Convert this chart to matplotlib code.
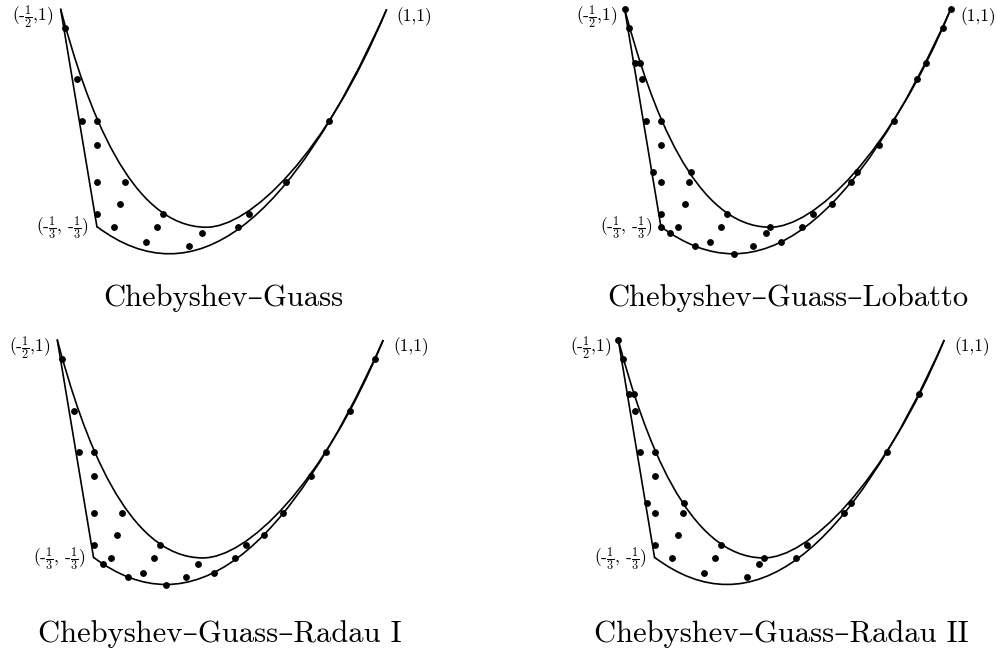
import matplotlib
matplotlib.use("Agg")
import matplotlib.pyplot as plt
from matplotlib.path import Path
from matplotlib.patches import PathPatch

plt.rcParams['mathtext.fontset'] = 'cm'
plt.rcParams['font.family'] = ['cmr10', 'DejaVu Serif']

# curved triangle: straight left side, two curved sides (bezier control points)
left_edge_x = [-0.5, -1/3]
left_edge_y = [1.0, -1/3]
lower_edge_x = [-1/3, 1/3, 1.0]
lower_edge_y = [-1/3, -1.0, 1.0]
upper_edge_x = [-0.5, -0.38, -0.18, 0.17, 0.37, 0.72, 1.0]
upper_edge_y = [1.0, 0.4, -0.337, -0.337, -0.337, 0.1, 1.0]

# quadrature nodes
gauss_x = [-0.479, -0.424, -0.402, -0.333, -0.333, -0.333, -0.204, -0.226, -0.333, -0.031,
           -0.255, -0.057, -0.108, 0.090, 0.148, 0.315, 0.365, 0.537, 0.736]
gauss_y = [0.883, 0.571, 0.315, 0.315, 0.167, -0.058, -0.058, -0.196, -0.258, -0.258,
           -0.334, -0.334, -0.429, -0.453, -0.372, -0.334, -0.258, -0.058, 0.315]

lobatto_x = [-0.5, -0.479, -0.454, -0.428, -0.419, -0.401, -0.333, -0.333, -0.368, -0.196,
             -0.333, -0.204, -0.222, -0.333, -0.031, -0.333, -0.253, -0.292, -0.055, -0.175,
             -0.107, 0.002, 0.090, 0.168, 0.149, 0.221, 0.316, 0.365, 0.453, 0.540,
             0.570, 0.670, 0.738, 0.847, 0.885, 0.963, 1.0]
lobatto_y = [1.0, 0.883, 0.669, 0.669, 0.571, 0.315, 0.315, 0.167, 0.0, 0.0,
             -0.058, -0.058, -0.194, -0.258, -0.258, -0.334, -0.334, -0.371, -0.334, -0.452,
             -0.428, -0.501, -0.452, -0.334, -0.371, -0.428, -0.334, -0.258, -0.194, -0.058,
             0.0, 0.167, 0.315, 0.571, 0.669, 0.883, 1.0]

radau1_x = [-0.480, -0.422, -0.402, -0.333, -0.333, -0.333, -0.204, -0.224, -0.333, -0.029,
            -0.254, -0.056, -0.291, -0.107, -0.176, 0.0, 0.091, 0.149, 0.220, 0.316,
            0.367, 0.451, 0.540, 0.669, 0.737, 0.847, 0.962]
radau1_y = [0.882, 0.566, 0.311, 0.311, 0.164, -0.060, -0.060, -0.198, -0.258, -0.258,
            -0.336, -0.336, -0.374, -0.431, -0.456, -0.505, -0.456, -0.374, -0.431, -0.336,
            -0.258, -0.198, -0.060, 0.164, 0.311, 0.566, 0.882]

radau2_x = [-0.5, -0.477, -0.452, -0.426, -0.422, -0.402, -0.333, -0.333, -0.369, -0.196,
            -0.333, -0.204, -0.224, -0.333, -0.029, -0.254, -0.056, -0.107, 0.169, 0.149,
            0.091, 0.318, 0.367, 0.540, 0.569, 0.737, 0.885]
radau2_y = [1.0, 0.882, 0.667, 0.667, 0.566, 0.311, 0.311, 0.164, 0.0, 0.0,
            -0.060, -0.060, -0.198, -0.258, -0.258, -0.336, -0.336, -0.431, -0.336, -0.374,
            -0.456, -0.336, -0.258, -0.060, 0.0, 0.311, 0.667]

titles = ["Chebyshev\u2013Guass", "Chebyshev\u2013Guass\u2013Lobatto",
          "Chebyshev\u2013Guass\u2013Radau I", "Chebyshev\u2013Guass\u2013Radau II"]
nodes = [(gauss_x, gauss_y), (lobatto_x, lobatto_y), (radau1_x, radau1_y), (radau2_x, radau2_y)]

W, H = 997, 650
# pixel position of vertex (-1/2,1) for each panel, and title baseline
corner_px = [(60.7, 9.3), (624.7, 9.3), (57.3, 340.0), (618.3, 340.0)]
title_base = [306, 306, 642, 642]
sx, sy = 217.3, 163.0  # pixels per data unit

fig = plt.figure(figsize=(W / 100, H / 100), dpi=100)

for i in range(4):
    px, py = corner_px[i]
    ax = fig.add_axes([px / W, 1 - (py + 1.5 * sy) / H, 1.5 * sx / W, 1.5 * sy / H])
    ax.set_xlim(-0.5, 1.0)
    ax.set_ylim(-0.5, 1.0)
    ax.axis('off')

    up = Path(list(zip(upper_edge_x, upper_edge_y)), [Path.MOVETO] + [Path.CURVE4] * 6)
    lo = Path(list(zip(lower_edge_x, lower_edge_y)), [Path.MOVETO, Path.CURVE3, Path.CURVE3])
    ax.add_patch(PathPatch(up, fill=False, lw=1.2, ec='black', clip_on=False))
    ax.add_patch(PathPatch(lo, fill=False, lw=1.2, ec='black', clip_on=False))
    ax.plot(left_edge_x, left_edge_y, color='black', lw=1.2, clip_on=False)

    xs, ys = nodes[i]
    ax.plot(xs, ys, 'o', color='black', ms=3.9, clip_on=False)

    ax.annotate(r'(-$\frac{1}{2}$,1)', (-0.5, 1.0), xytext=(-7, -8), textcoords='offset pixels',
                ha='right', va='center', fontsize=12.5)
    ax.annotate('(1,1)', (1.0, 1.0), xytext=(10, -7), textcoords='offset pixels',
                ha='left', va='center', fontsize=12.5)
    ax.annotate(r'(-$\frac{1}{3}$, -$\frac{1}{3}$)', (-1/3, -1/3), xytext=(-8, -2),
                textcoords='offset pixels', ha='right', va='center', fontsize=12.5)

    fig.text((px + 0.75 * sx) / W, 1 - title_base[i] / H, titles[i],
             ha='center', va='baseline', fontsize=22)

fig.savefig('out.png', dpi=100)
